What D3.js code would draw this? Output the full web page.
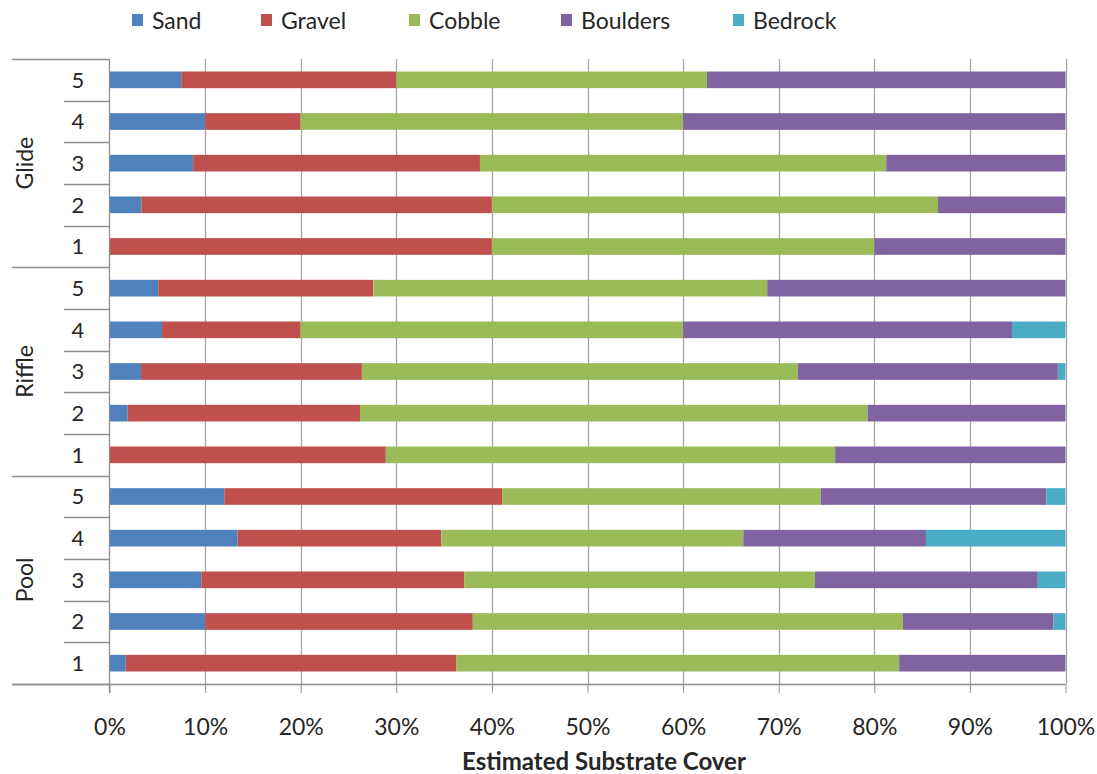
<!DOCTYPE html>
<html>
<head>
<meta charset="utf-8">
<script src="https://cdn.jsdelivr.net/npm/d3@7"></script>
<style>
  html, body { margin: 0; padding: 0; background: #fff; }
  svg { display: block; font-family: Lato, "Open Sans", sans-serif; }
</style>
</head>
<body>
<svg id="chart" width="1097" height="774"></svg>
<script>
// Habitat groups and site numbers (rows listed bottom to top: Pool 1 ... Glide 5)
const groups = ["Pool", "Riffle", "Glide"];
const sites = ["1", "2", "3", "4", "5"];
const substrates = ["Sand", "Gravel", "Cobble", "Boulders", "Bedrock"];
const colors = ["#4F81BD", "#C0504D", "#9BBB59", "#8064A2", "#4BACC6"];
const xTicks = [0, 0.1, 0.2, 0.3, 0.4, 0.5, 0.6, 0.7, 0.8, 0.9, 1];

// Percent cover per row: Pool 1-5, Riffle 1-5, Glide 1-5
const sand     = [1.7, 10, 9.6, 13.4, 12.0,   0, 1.9, 3.3, 5.5, 5.1,   0, 3.33, 8.75, 10, 7.5];
const gravel   = [34.6, 28, 27.5, 21.3, 29.1, 28.9, 24.3, 23.1, 14.5, 22.5, 40, 36.67, 30, 10, 22.5];
const cobble   = [46.3, 45, 36.7, 31.6, 33.3, 47.0, 53.1, 45.6, 40, 41.2, 40, 46.67, 42.5, 40, 32.5];
const boulders = [17.4, 15.75, 23.3, 19.1, 23.6, 24.1, 20.7, 27.2, 34.4, 31.2, 20, 13.33, 18.75, 40, 37.5];
const bedrock  = [0, 1.25, 2.9, 14.6, 2.0, 0, 0, 0.8, 5.6, 0, 0, 0, 0, 0, 0];

const seriesValues = [sand, gravel, cobble, boulders, bedrock];

// Build one record per row
const rows = [];
groups.forEach((g, gi) => {
  sites.forEach((s, si) => {
    const idx = gi * sites.length + si;
    const rec = { key: g + "-" + s, group: g, site: s };
    substrates.forEach((name, k) => { rec[name] = seriesValues[k][idx]; });
    rows.push(rec);
  });
});

const svg = d3.select("#chart");
const plotLeft = 109.5, plotRight = 1065.5, plotTop = 59, plotBottom = 684;
const textColor = "#262626";
const gridColor = "#A6A6A6";
const axisColor = "#8E8E8E";

const x = d3.scaleLinear().domain([0, 1]).range([plotLeft, plotRight]);
// Top of the chart is the last row (Glide 5)
const y = d3.scaleBand()
  .domain(rows.map(d => d.key).reverse())
  .range([plotTop, plotBottom])
  .paddingInner(0.6)
  .paddingOuter(0.3);

const stack = d3.stack().keys(substrates).offset(d3.stackOffsetExpand);
const stacked = stack(rows);

// Vertical gridlines
svg.append("g").selectAll("line")
  .data(xTicks.slice(1))
  .join("line")
  .attr("x1", d => Math.round(x(d)) + 0.5).attr("x2", d => Math.round(x(d)) + 0.5)
  .attr("y1", plotTop).attr("y2", plotBottom)
  .attr("stroke", gridColor).attr("stroke-width", 1.3);

// Stacked bars
svg.append("g").selectAll("g")
  .data(stacked)
  .join("g")
  .attr("fill", (d, i) => colors[i])
  .selectAll("rect")
  .data(d => d)
  .join("rect")
  .attr("x", d => x(d[0]))
  .attr("width", d => Math.max(0, x(d[1]) - x(d[0])))
  .attr("y", d => y(d.data.key))
  .attr("height", y.bandwidth());

// X axis (bottom)
const xAxis = d3.axisBottom(x)
  .tickValues(xTicks)
  .tickFormat(d3.format(".0%"))
  .tickSize(9)
  .tickPadding(26);
const gx = svg.append("g")
  .attr("transform", `translate(0,${plotBottom})`)
  .call(xAxis);
gx.select(".domain").remove();
gx.selectAll(".tick line").attr("stroke", axisColor);
gx.selectAll(".tick text")
  .attr("fill", textColor)
  .style("font-size", "23px")
  .style("font-family", "Lato, sans-serif");

// Baseline across the category area and the plot
svg.append("line")
  .attr("x1", 12).attr("x2", plotRight)
  .attr("y1", plotBottom + 0.5).attr("y2", plotBottom + 0.5)
  .attr("stroke", axisColor).attr("stroke-width", 1.3);

// Vertical category axis line
svg.append("line")
  .attr("x1", plotLeft).attr("x2", plotLeft)
  .attr("y1", plotTop).attr("y2", plotBottom + 9)
  .attr("stroke", axisColor).attr("stroke-width", 1.3);

// Category tick lines between rows, group separators between habitats
const step = y.step();
const catAxis = svg.append("g");
const rowKeys = y.domain();
for (let i = 0; i <= rowKeys.length; i++) {
  const yy = Math.round(plotTop + i * step) + 0.5;
  const isGroupEdge = i % sites.length === 0;
  catAxis.append("line")
    .attr("x1", isGroupEdge ? 12 : 64).attr("x2", plotLeft)
    .attr("y1", yy).attr("y2", yy)
    .attr("stroke", axisColor).attr("stroke-width", 1.3);
}

// Site labels
catAxis.selectAll("text.site")
  .data(rows)
  .join("text")
  .attr("class", "site")
  .attr("x", 78)
  .attr("y", d => y(d.key) + y.bandwidth() / 2)
  .attr("dy", "0.36em")
  .attr("text-anchor", "middle")
  .attr("fill", textColor)
  .style("font-size", "22px")
  .text(d => d.site);

// Habitat group labels (rotated)
catAxis.selectAll("text.group")
  .data(groups)
  .join("text")
  .attr("class", "group")
  .attr("transform", g => {
    const keys = sites.map(s => g + "-" + s);
    const ys = keys.map(k => y(k) + y.bandwidth() / 2);
    const cy = (d3.min(ys) + d3.max(ys)) / 2;
    return `translate(33,${cy}) rotate(-90)`;
  })
  .attr("text-anchor", "middle")
  .attr("fill", textColor)
  .style("font-size", "23px")
  .text(g => g);

// Axis title
svg.append("text")
  .attr("x", 604)
  .attr("y", 770)
  .attr("text-anchor", "middle")
  .attr("fill", textColor)
  .style("font-size", "24px")
  .style("font-weight", "bold")
  .text("Estimated Substrate Cover");

// Legend
const legendX = [132, 261, 409, 561, 733];
const legend = svg.append("g");
substrates.forEach((name, i) => {
  const item = legend.append("g").attr("transform", `translate(${legendX[i]},0)`);
  item.append("rect")
    .attr("x", 0).attr("y", 14)
    .attr("width", 11).attr("height", 12)
    .attr("fill", colors[i]);
  item.append("text")
    .attr("x", 20).attr("y", 29)
    .attr("fill", textColor)
    .style("font-size", "23px")
    .text(name);
});
</script>
</body>
</html>
